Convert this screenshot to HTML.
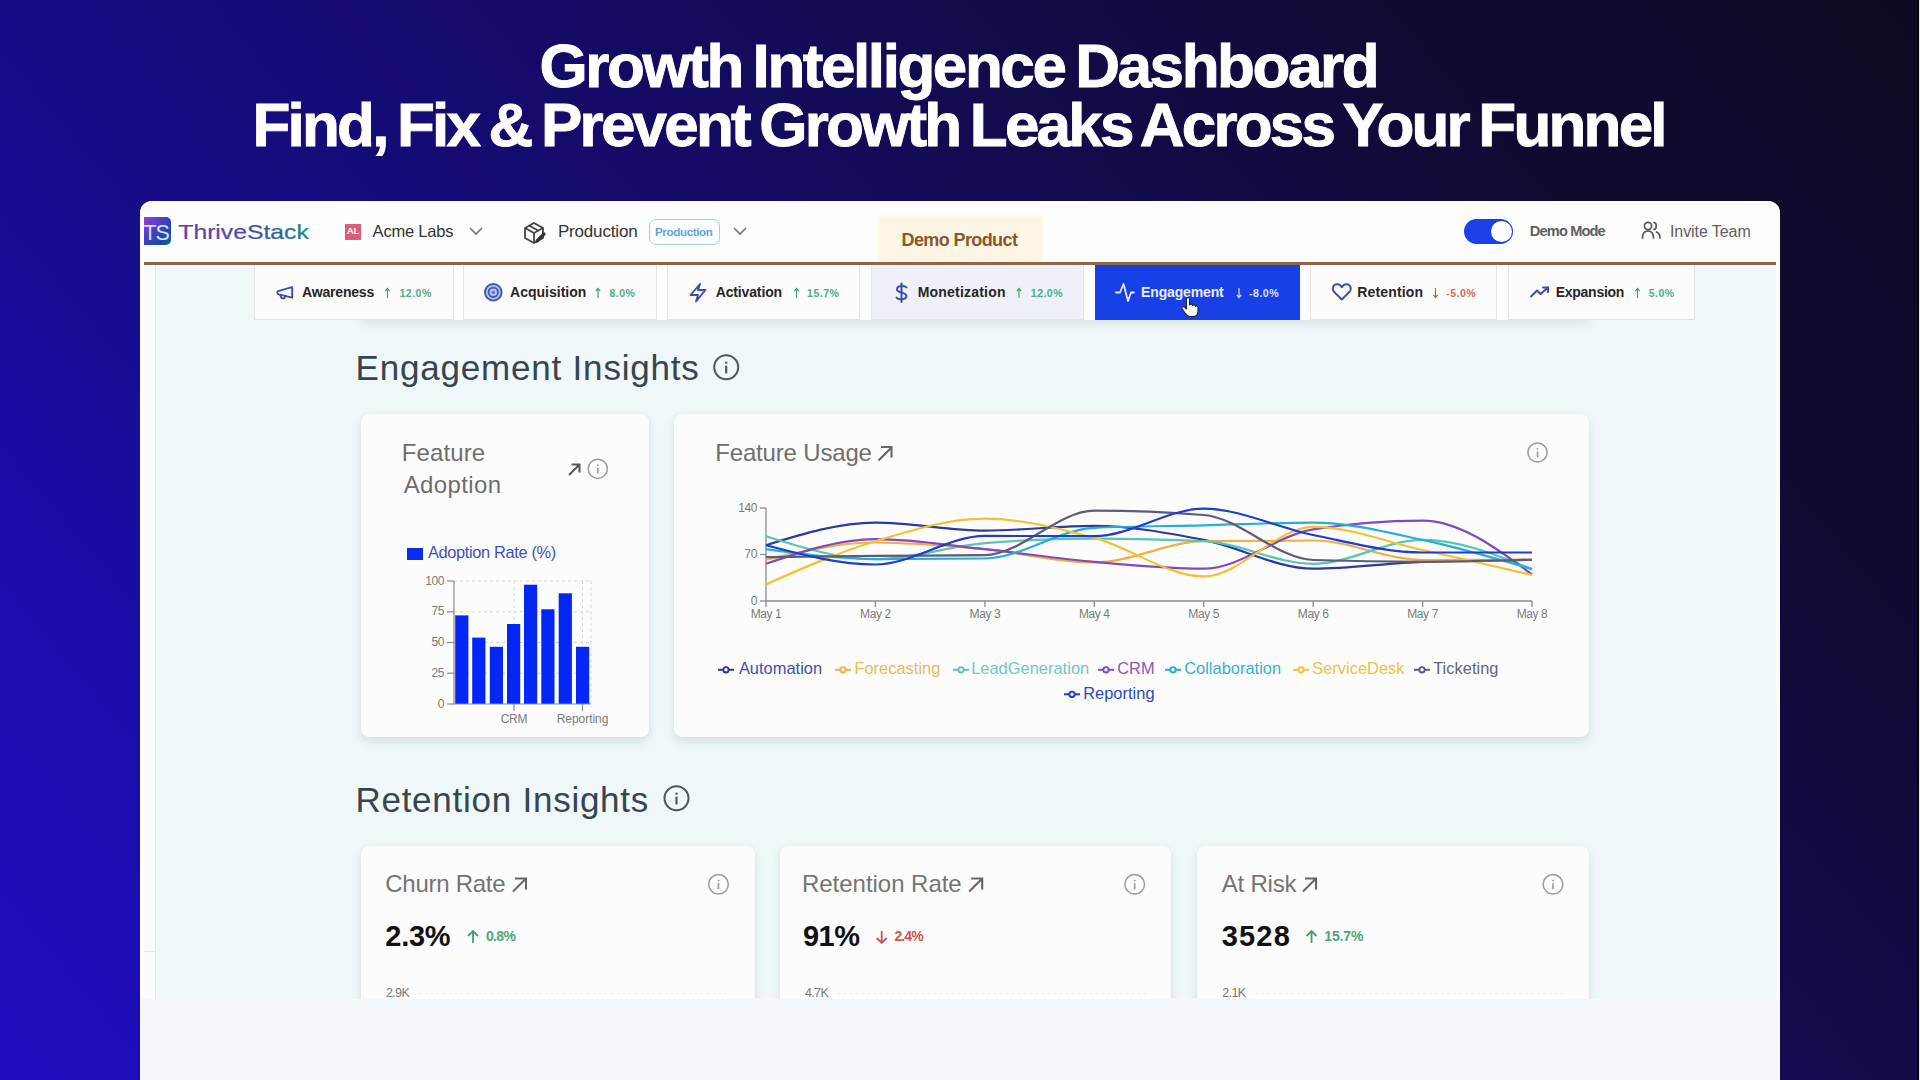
<!DOCTYPE html><html><head><meta charset="utf-8"><style>
html,body{margin:0;padding:0;width:1920px;height:1080px;overflow:hidden}
body{position:relative;font-family:"Liberation Sans",sans-serif;
background:linear-gradient(50deg,#200dbf 0%,#1b0ca8 17%,#170c86 32%,#140b68 50%,#120b4a 66%,#100a30 83%,#0f0a24 100%);}
.a{position:absolute}
.t{position:absolute;white-space:nowrap;font-family:"Liberation Sans",sans-serif}
svg{position:absolute;overflow:visible}
</style></head><body>
<div class="t" style="left:539.5px;top:34.8px;font-size:62px;line-height:62px;color:#fff;font-weight:bold;letter-spacing:-2.44px;-webkit-text-stroke:0.9px #fff;word-spacing:-4px">Growth Intelligence Dashboard</div>
<div class="t" style="left:252.5px;top:94.0px;font-size:62px;line-height:62px;color:#fff;font-weight:bold;letter-spacing:-2.8px;-webkit-text-stroke:0.9px #fff;word-spacing:-4px">Find, Fix &amp; Prevent Growth Leaks Across Your Funnel</div>
<div class="a" style="left:1917px;top:0px;width:1px;height:1080px;background:#0a0720"></div>
<div class="a" style="left:1918px;top:0px;width:1px;height:1080px;background:#000004"></div>
<div class="a" style="left:1919px;top:0px;width:1px;height:1080px;background:#e6e6ec"></div>
<div class="a" style="left:140px;top:201px;width:1640px;height:879px;background:#f4f8fa;border-radius:12px 12px 0 0;overflow:hidden"></div>
<div class="a" style="left:140px;top:201px;width:1640px;height:61px;background:#fdfdfd;border-radius:12px 12px 0 0"></div>
<div class="a" style="left:140px;top:262px;width:4px;height:737px;background:#fdfdfd"></div>
<div class="a" style="left:1776px;top:262px;width:4px;height:737px;background:#fdfdfd"></div>
<div class="a" style="left:144px;top:264px;width:11px;height:735px;background:#fbfbfb;border-right:1.5px solid #e8ebec"></div>
<div class="a" style="left:157px;top:264px;width:1619px;height:735px;background:#eff7f9"></div>
<div class="a" style="left:144px;top:262px;width:1632px;height:2.5px;background:#8d6848"></div>
<div class="a" style="left:144px;top:951px;width:11px;height:1px;background:#e6e6e6"></div>
<div class="a" style="left:144px;top:217px;width:27px;height:28px;border-radius:0 5px 5px 0;background:linear-gradient(135deg,#9a3fd0 0%,#3a3fc0 50%,#1a4aa0 80%,#0e7a78 100%);overflow:hidden"><div class="t" style="left:-0.5px;top:4.5px;font-size:21.5px;line-height:22px;color:#d4e4ff;letter-spacing:-1.2px">TS</div></div>
<div class="a" style="left:345px;top:224px;width:16px;height:16px;background:#dc5c7c"></div>
<div class="t" style="left:346.8px;top:226.3px;font-size:9.8px;line-height:9.8px;color:#fff;font-weight:bold;letter-spacing:-0.4px;">AL</div>
<div class="t" style="left:372.6px;top:223.0px;font-size:16.5px;line-height:16.5px;color:#333;font-weight:normal;letter-spacing:-0.2px;">Acme Labs</div>
<div class="t" style="left:557.9px;top:222.6px;font-size:17px;line-height:17px;color:#333;font-weight:normal;letter-spacing:-0.17px;">Production</div>
<div class="a" style="left:649px;top:219px;width:68.5px;height:23.5px;border:1.6px solid #a9cbe0;border-radius:7px;background:#fbfdff"></div>
<div class="t" style="left:654.9px;top:226.2px;font-size:11.6px;line-height:11.6px;color:#64a3dc;font-weight:bold;letter-spacing:-0.35px;">Production</div>
<div class="a" style="left:880px;top:218px;width:161px;height:44px;background:#fdf5e3;box-shadow:0 0 3px 2px #fdf6e6"></div>
<div class="a" style="left:860px;top:262px;width:200px;height:2.5px;background:#8d6848"></div>
<div class="t" style="left:901.5px;top:230.8px;font-size:18px;line-height:18px;color:#8a5828;font-weight:bold;letter-spacing:-0.6px;">Demo Product</div>
<div class="a" style="left:1464px;top:219px;width:49px;height:25px;background:#1a40e8;border-radius:13px"></div>
<div class="a" style="left:1490.5px;top:221px;width:21px;height:21px;background:#fff;border-radius:50%"></div>
<div class="t" style="left:1529.8px;top:223.6px;font-size:14.6px;line-height:14.6px;color:#606060;font-weight:bold;letter-spacing:-0.85px;">Demo Mode</div>
<div class="t" style="left:1670.0px;top:223.9px;font-size:16px;line-height:16px;color:#606060;font-weight:normal;letter-spacing:-0.08px;">Invite Team</div>
<div class="a" style="left:361px;top:300px;width:1228px;height:20px;background:#fdfdfd;box-shadow:0 5px 8px rgba(40,60,70,0.09)"></div>
<div class="a" style="left:254px;top:265px;width:1441px;height:55px;background:#fdfdfd"></div>
<div class="a" style="left:254px;top:265px;width:198px;height:54px;background:#fcfcfc;border:1px solid #e4e4e4;border-top:none"></div>
<div class="t" style="left:302.1px;top:284.6px;font-size:14px;line-height:14px;color:#262626;font-weight:bold;letter-spacing:-0.19px;">Awareness</div>
<div class="t" style="left:399.5px;top:287.5px;font-size:10.6px;line-height:10.6px;color:#4cae7e;font-weight:bold;letter-spacing:0.45px;">12.0%</div>
<div class="a" style="left:463px;top:265px;width:192px;height:54px;background:#fcfcfc;border:1px solid #e4e4e4;border-top:none"></div>
<div class="t" style="left:510.1px;top:284.6px;font-size:14px;line-height:14px;color:#262626;font-weight:bold;letter-spacing:0px;">Acquisition</div>
<div class="t" style="left:609.5px;top:287.5px;font-size:10.6px;line-height:10.6px;color:#4cae7e;font-weight:bold;letter-spacing:0.45px;">8.0%</div>
<div class="a" style="left:667px;top:265px;width:191px;height:54px;background:#fcfcfc;border:1px solid #e4e4e4;border-top:none"></div>
<div class="t" style="left:715.7px;top:284.6px;font-size:14px;line-height:14px;color:#262626;font-weight:bold;letter-spacing:-0.14px;">Activation</div>
<div class="t" style="left:807.1px;top:287.5px;font-size:10.6px;line-height:10.6px;color:#4cae7e;font-weight:bold;letter-spacing:0.45px;">15.7%</div>
<div class="a" style="left:871px;top:265px;width:211px;height:54px;background:#eef1f8;border:1px solid #e2e5ea;border-top:none"></div>
<div class="t" style="left:917.7px;top:284.6px;font-size:14px;line-height:14px;color:#262626;font-weight:bold;letter-spacing:0.2px;">Monetization</div>
<div class="t" style="left:1030.8px;top:287.5px;font-size:10.6px;line-height:10.6px;color:#4cae7e;font-weight:bold;letter-spacing:0.45px;">12.0%</div>
<div class="a" style="left:1095px;top:265px;width:205px;height:55px;background:#1740e6"></div>
<div class="t" style="left:1141.1px;top:284.6px;font-size:14px;line-height:14px;color:#e8eeff;font-weight:bold;letter-spacing:-0.15px;">Engagement</div>
<div class="t" style="left:1249.1px;top:287.5px;font-size:10.6px;line-height:10.6px;color:#dce4ff;font-weight:bold;letter-spacing:0.45px;">-8.0%</div>
<div class="a" style="left:1310px;top:265px;width:185px;height:54px;background:#fcfcfc;border:1px solid #e4e4e4;border-top:none"></div>
<div class="t" style="left:1357.3px;top:284.6px;font-size:14px;line-height:14px;color:#262626;font-weight:bold;letter-spacing:0.16px;">Retention</div>
<div class="t" style="left:1446.3px;top:287.5px;font-size:10.6px;line-height:10.6px;color:#d9655a;font-weight:bold;letter-spacing:0.45px;">-5.0%</div>
<div class="a" style="left:1508px;top:265px;width:185px;height:54px;background:#fcfcfc;border:1px solid #e4e4e4;border-top:none"></div>
<div class="t" style="left:1555.7px;top:284.6px;font-size:14px;line-height:14px;color:#262626;font-weight:bold;letter-spacing:-0.26px;">Expansion</div>
<div class="t" style="left:1648.7px;top:287.5px;font-size:10.6px;line-height:10.6px;color:#4cae7e;font-weight:bold;letter-spacing:0.45px;">5.0%</div>
<div class="t" style="left:355.6px;top:350.4px;font-size:35px;line-height:35px;color:#36454f;font-weight:normal;letter-spacing:0.8px;">Engagement Insights</div>
<div class="a" style="left:361px;top:414px;width:288px;height:323px;background:#fcfcfc;border-radius:8px;box-shadow:0 5px 10px rgba(60,80,90,0.13),0 0 2px rgba(0,0,0,0.06)"></div>
<div class="a" style="left:674px;top:414px;width:915px;height:323px;background:#fcfcfc;border-radius:8px;box-shadow:0 5px 10px rgba(60,80,90,0.13),0 0 2px rgba(0,0,0,0.06)"></div>
<div class="t" style="left:401.7px;top:440.7px;font-size:24px;line-height:24px;color:#6e6e6e;font-weight:normal;letter-spacing:0.13px;">Feature</div>
<div class="t" style="left:403.7px;top:473.2px;font-size:24px;line-height:24px;color:#6e6e6e;font-weight:normal;letter-spacing:0.39px;">Adoption</div>
<div class="a" style="left:407px;top:547.5px;width:16px;height:12px;background:#0b2bef"></div>
<div class="t" style="left:427.9px;top:544.3px;font-size:16.4px;line-height:16.4px;color:#3e51b4;font-weight:normal;letter-spacing:-0.35px;">Adoption Rate (%)</div>
<div class="t" style="left:384px;top:574.5px;width:60px;text-align:right;font-size:12px;line-height:12px;color:#7a7a7a;letter-spacing:-0.4px">100</div>
<div class="t" style="left:384px;top:605.2px;width:60px;text-align:right;font-size:12px;line-height:12px;color:#7a7a7a;letter-spacing:-0.4px">75</div>
<div class="t" style="left:384px;top:636.0px;width:60px;text-align:right;font-size:12px;line-height:12px;color:#7a7a7a;letter-spacing:-0.4px">50</div>
<div class="t" style="left:384px;top:666.8px;width:60px;text-align:right;font-size:12px;line-height:12px;color:#7a7a7a;letter-spacing:-0.4px">25</div>
<div class="t" style="left:384px;top:697.5px;width:60px;text-align:right;font-size:12px;line-height:12px;color:#7a7a7a;letter-spacing:-0.4px">0</div>
<div class="t" style="left:464px;top:712.5px;width:100px;text-align:center;font-size:12px;line-height:12px;color:#7a7a7a;letter-spacing:-0.2px">CRM</div>
<div class="t" style="left:532.5px;top:712.5px;width:100px;text-align:center;font-size:12px;line-height:12px;color:#7a7a7a;letter-spacing:-0.05px">Reporting</div>
<div class="t" style="left:715.3px;top:440.7px;font-size:24px;line-height:24px;color:#6e6e6e;font-weight:normal;letter-spacing:-0.18px;">Feature Usage</div>
<div class="t" style="left:697px;top:501.5px;width:60px;text-align:right;font-size:12px;line-height:12px;color:#7a7a7a;letter-spacing:-0.4px">140</div>
<div class="t" style="left:697px;top:548.0px;width:60px;text-align:right;font-size:12px;line-height:12px;color:#7a7a7a;letter-spacing:-0.4px">70</div>
<div class="t" style="left:697px;top:594.5px;width:60px;text-align:right;font-size:12px;line-height:12px;color:#7a7a7a;letter-spacing:-0.4px">0</div>
<div class="t" style="left:716.0px;top:608px;width:100px;text-align:center;font-size:12px;line-height:12px;color:#7a7a7a;letter-spacing:-0.4px">May 1</div>
<div class="t" style="left:825.4px;top:608px;width:100px;text-align:center;font-size:12px;line-height:12px;color:#7a7a7a;letter-spacing:-0.4px">May 2</div>
<div class="t" style="left:934.9px;top:608px;width:100px;text-align:center;font-size:12px;line-height:12px;color:#7a7a7a;letter-spacing:-0.4px">May 3</div>
<div class="t" style="left:1044.3px;top:608px;width:100px;text-align:center;font-size:12px;line-height:12px;color:#7a7a7a;letter-spacing:-0.4px">May 4</div>
<div class="t" style="left:1153.7px;top:608px;width:100px;text-align:center;font-size:12px;line-height:12px;color:#7a7a7a;letter-spacing:-0.4px">May 5</div>
<div class="t" style="left:1263.2px;top:608px;width:100px;text-align:center;font-size:12px;line-height:12px;color:#7a7a7a;letter-spacing:-0.4px">May 6</div>
<div class="t" style="left:1372.6px;top:608px;width:100px;text-align:center;font-size:12px;line-height:12px;color:#7a7a7a;letter-spacing:-0.4px">May 7</div>
<div class="t" style="left:1482.0px;top:608px;width:100px;text-align:center;font-size:12px;line-height:12px;color:#7a7a7a;letter-spacing:-0.4px">May 8</div>
<div class="t" style="left:738.9px;top:660.2px;font-size:16.4px;line-height:16.4px;color:#3d4fb0;font-weight:normal;letter-spacing:0.03px;">Automation</div>
<div class="t" style="left:854.4px;top:660.2px;font-size:16.4px;line-height:16.4px;color:#e9b95a;font-weight:normal;letter-spacing:0.03px;">Forecasting</div>
<div class="t" style="left:971.2px;top:660.2px;font-size:16.4px;line-height:16.4px;color:#6ccbbb;font-weight:normal;letter-spacing:0.03px;">LeadGeneration</div>
<div class="t" style="left:1117.2px;top:660.2px;font-size:16.4px;line-height:16.4px;color:#8a58b8;font-weight:normal;letter-spacing:0.03px;">CRM</div>
<div class="t" style="left:1184.2px;top:660.2px;font-size:16.4px;line-height:16.4px;color:#36afd0;font-weight:normal;letter-spacing:0.03px;">Collaboration</div>
<div class="t" style="left:1312.2px;top:660.2px;font-size:16.4px;line-height:16.4px;color:#eec140;font-weight:normal;letter-spacing:0.03px;">ServiceDesk</div>
<div class="t" style="left:1433.2px;top:660.2px;font-size:16.4px;line-height:16.4px;color:#646280;font-weight:normal;letter-spacing:0.03px;">Ticketing</div>
<div class="t" style="left:1083.2px;top:684.7px;font-size:16.4px;line-height:16.4px;color:#2f4abf;font-weight:normal;letter-spacing:0.03px;">Reporting</div>
<div class="t" style="left:355.4px;top:782.0px;font-size:35px;line-height:35px;color:#36454f;font-weight:normal;letter-spacing:0.75px;">Retention Insights</div>
<div class="a" style="left:361px;top:845.5px;width:393.5px;height:160px;background:#fcfcfc;border-radius:8px;box-shadow:0 5px 10px rgba(60,80,90,0.13),0 0 2px rgba(0,0,0,0.06)"></div>
<div class="t" style="left:385.3px;top:872.4px;font-size:24px;line-height:24px;color:#747474;font-weight:normal;letter-spacing:-0.27px;">Churn Rate</div>
<div class="t" style="left:385.3px;top:921.6px;font-size:29px;line-height:29px;color:#111;font-weight:bold;letter-spacing:-0.3px;">2.3%</div>
<div class="t" style="left:485.9px;top:928.9px;font-size:14px;line-height:14px;color:#48a877;font-weight:bold;letter-spacing:-0.6px;">0.8%</div>
<div class="t" style="left:385.9px;top:986.8px;font-size:12.5px;line-height:12.5px;color:#777;font-weight:normal;letter-spacing:-0.6px;">2.9K</div>
<div class="a" style="left:780px;top:845.5px;width:390.70000000000005px;height:160px;background:#fcfcfc;border-radius:8px;box-shadow:0 5px 10px rgba(60,80,90,0.13),0 0 2px rgba(0,0,0,0.06)"></div>
<div class="t" style="left:802.0px;top:872.4px;font-size:24px;line-height:24px;color:#747474;font-weight:normal;letter-spacing:-0.03px;">Retention Rate</div>
<div class="t" style="left:803.0px;top:921.6px;font-size:29px;line-height:29px;color:#111;font-weight:bold;letter-spacing:-0.55px;">91%</div>
<div class="t" style="left:894.4px;top:928.9px;font-size:14px;line-height:14px;color:#cf5548;font-weight:bold;letter-spacing:-0.9px;">2.4%</div>
<div class="t" style="left:804.9px;top:986.8px;font-size:12.5px;line-height:12.5px;color:#777;font-weight:normal;letter-spacing:-0.6px;">4.7K</div>
<div class="a" style="left:1197.4px;top:845.5px;width:391.5999999999999px;height:160px;background:#fcfcfc;border-radius:8px;box-shadow:0 5px 10px rgba(60,80,90,0.13),0 0 2px rgba(0,0,0,0.06)"></div>
<div class="t" style="left:1221.7px;top:872.4px;font-size:24px;line-height:24px;color:#747474;font-weight:normal;letter-spacing:-0.2px;">At Risk</div>
<div class="t" style="left:1221.7px;top:921.6px;font-size:29px;line-height:29px;color:#111;font-weight:bold;letter-spacing:1.2px;">3528</div>
<div class="t" style="left:1324.3px;top:928.9px;font-size:14px;line-height:14px;color:#48a877;font-weight:bold;letter-spacing:-0.15px;">15.7%</div>
<div class="t" style="left:1222.3px;top:986.8px;font-size:12.5px;line-height:12.5px;color:#777;font-weight:normal;letter-spacing:-0.6px;">2.1K</div>
<div class="a" style="left:140px;top:999px;width:1640px;height:81px;background:#f4f8fa"></div>
<svg style="left:0;top:0" width="1920" height="1080"><defs><linearGradient id="tsg" x1="178" y1="0" x2="310" y2="0" gradientUnits="userSpaceOnUse"><stop offset="0" stop-color="#6d3e9c"/><stop offset="0.45" stop-color="#4a48a6"/><stop offset="0.72" stop-color="#2f5e9e"/><stop offset="1" stop-color="#1d8a86"/></linearGradient></defs><text x="178.3" y="238.9" font-family="Liberation Sans" font-size="20.3" textLength="130.5" lengthAdjust="spacingAndGlyphs" fill="url(#tsg)" stroke="url(#tsg)" stroke-width="0.2">ThriveStack</text>
<polyline points="470,228 476,234 482,228" fill="none" stroke="#777" stroke-width="1.6"/>
<polyline points="734,228 740,234 746,228" fill="none" stroke="#777" stroke-width="1.6"/>
<g fill="none" stroke="#444" stroke-width="1.8" stroke-linejoin="round"><path d="M525,228 L534,223 L543,228 L543,238 L534,243 L525,238 Z"/><path d="M525,228 L534,233 L543,228 M534,233 L534,243 M529,225.5 L538,230.5"/></g><path d="M537,241 L544,234" stroke="#333" stroke-width="3.2" stroke-linecap="round"/>
<g fill="none" stroke="#555" stroke-width="1.7" stroke-linecap="round"><circle cx="1648" cy="226" r="3.6"/><path d="M1642.5,238 C1642.5,233 1645,231 1648,231 C1651,231 1653.5,233 1653.5,238"/><path d="M1654,222.5 C1657,223 1657,229 1654,229.5"/><path d="M1656.5,232 C1659,233 1660,235 1660,238"/></g>
<path d="M387.5,298 L387.5,288.5 M385.3,291.2 L387.5,288.5 L389.7,291.2" fill="none" stroke="#3f9e6c" stroke-width="1.15"/>
<path d="M598,298 L598,288.5 M595.8,291.2 L598,288.5 L600.2,291.2" fill="none" stroke="#3f9e6c" stroke-width="1.15"/>
<path d="M796.5,298 L796.5,288.5 M794.3,291.2 L796.5,288.5 L798.7,291.2" fill="none" stroke="#3f9e6c" stroke-width="1.15"/>
<path d="M1019,298 L1019,288.5 M1016.8,291.2 L1019,288.5 L1021.2,291.2" fill="none" stroke="#3f9e6c" stroke-width="1.15"/>
<path d="M1239,288 L1239,297.5 M1236.8,294.8 L1239,297.5 L1241.2,294.8" fill="none" stroke="#dce4ff" stroke-width="1.15"/>
<path d="M1435.5,288 L1435.5,297.5 M1433.3,294.8 L1435.5,297.5 L1437.7,294.8" fill="none" stroke="#cf5548" stroke-width="1.15"/>
<path d="M1637.5,298 L1637.5,288.5 M1635.3,291.2 L1637.5,288.5 L1639.7,291.2" fill="none" stroke="#3f9e6c" stroke-width="1.15"/>
<g fill="none" stroke="#3b4db0" stroke-width="1.9" stroke-linejoin="round" stroke-linecap="round"><path d="M278,291.2 L292.2,287.2 L292.2,297.6 L278.6,294.3 C277.2,293.8 277.0,291.6 278,291.2 Z"/><path d="M280.2,294.8 L281.6,298.2 L284.2,298.4 L285.6,296.0"/></g>
<circle cx="493.3" cy="292.3" r="8.3" fill="#b4c0f6" stroke="#4656a8" stroke-width="1.9"/><circle cx="493.3" cy="292.3" r="4.7" fill="#b4c0f6" stroke="#4858aa" stroke-width="1.8"/><circle cx="493.3" cy="292.3" r="1.6" fill="#5a6ab8"/>
<path d="M700,284 L690.5,295 L698,295 L696,301.5 L705.5,290 L698,290 Z" fill="none" stroke="#3b4db0" stroke-width="1.9" stroke-linejoin="round"/>
<g fill="none" stroke="#3b4db0" stroke-width="2" stroke-linecap="round"><path d="M901.5,283.5 L901.5,302"/><path d="M906.5,287.5 C905,285.5 897,285 897,289.5 C897,293 906.5,292 906.5,296 C906.5,300 898,300 896.5,297.5"/></g>
<path d="M1116,292.5 L1120,292.5 L1123.5,284 L1128,301 L1131,292.5 L1134,292.5" fill="none" stroke="#e2eaff" stroke-width="1.8" stroke-linejoin="round" stroke-linecap="round"/>
<path d="M1341.8,299.5 L1334.2,292 C1331.5,289 1333,284.5 1337,284.3 C1339.2,284.2 1340.8,285.6 1341.8,287.2 C1342.8,285.6 1344.4,284.2 1346.6,284.3 C1350.6,284.5 1352.1,289 1349.4,292 Z" fill="none" stroke="#3b4db0" stroke-width="1.9" stroke-linejoin="round"/>
<g fill="none" stroke="#3b4db0" stroke-width="2" stroke-linejoin="round" stroke-linecap="round"><path d="M1531,296.5 L1537,290.5 L1540.5,294 L1548,287.5"/><path d="M1543,287.5 L1548,287.5 L1548,292"/></g>
<g fill="none" stroke="#4a5860" stroke-width="2"><circle cx="726.2" cy="367.2" r="12"/></g><path d="M726.2,366.59999999999997 L726.2,372.59999999999997" stroke="#4a5860" stroke-width="2.2" stroke-linecap="round"/><circle cx="726.2" cy="362.64" r="1.2" fill="#4a5860"/>
<path d="M569,475 L579.5,464.5 M571.5,464.5 L579.5,464.5 L579.5,472.5" fill="none" stroke="#555" stroke-width="2"/>
<g fill="none" stroke="#9a9a9a" stroke-width="1.5"><circle cx="597.8" cy="468.8" r="9.6"/></g><path d="M597.8,468.32 L597.8,473.12" stroke="#9a9a9a" stroke-width="1.6500000000000001" stroke-linecap="round"/><circle cx="597.8" cy="465.152" r="0.8999999999999999" fill="#9a9a9a"/>
<path d="M454,581.0 L591,581.0" stroke="#d6d6d6" stroke-width="1" stroke-dasharray="3 3"/><path d="M454,611.8 L591,611.8" stroke="#d6d6d6" stroke-width="1" stroke-dasharray="3 3"/><path d="M454,642.5 L591,642.5" stroke="#d6d6d6" stroke-width="1" stroke-dasharray="3 3"/><path d="M454,673.2 L591,673.2" stroke="#d6d6d6" stroke-width="1" stroke-dasharray="3 3"/><path d="M514,581 L514,704" stroke="#d6d6d6" stroke-width="1" stroke-dasharray="3 3"/><path d="M582.5,581 L582.5,704" stroke="#d6d6d6" stroke-width="1" stroke-dasharray="3 3"/><path d="M591,581 L591,704" stroke="#d6d6d6" stroke-width="1" stroke-dasharray="3 3"/><rect x="455.2" y="615.4" width="13.2" height="88.6" fill="#0527f5"/><rect x="472.2" y="637.6" width="13.2" height="66.4" fill="#0527f5"/><rect x="489.8" y="646.8" width="13.2" height="57.2" fill="#0527f5"/><rect x="507" y="624.0" width="13.2" height="80.0" fill="#0527f5"/><rect x="524" y="584.7" width="13.2" height="119.3" fill="#0527f5"/><rect x="541.3" y="609.3" width="13.2" height="94.7" fill="#0527f5"/><rect x="558.7" y="593.3" width="13.2" height="110.7" fill="#0527f5"/><rect x="576" y="646.8" width="13.2" height="57.2" fill="#0527f5"/><path d="M454,581 L454,704 L591,704" fill="none" stroke="#8a8a8a" stroke-width="1.2"/><path d="M447,581.0 L454,581.0" stroke="#8a8a8a" stroke-width="1.2"/><path d="M447,611.8 L454,611.8" stroke="#8a8a8a" stroke-width="1.2"/><path d="M447,642.5 L454,642.5" stroke="#8a8a8a" stroke-width="1.2"/><path d="M447,673.2 L454,673.2" stroke="#8a8a8a" stroke-width="1.2"/><path d="M447,704.0 L454,704.0" stroke="#8a8a8a" stroke-width="1.2"/><path d="M514,704 L514,711" stroke="#8a8a8a" stroke-width="1.2"/><path d="M582.5,704 L582.5,711" stroke="#8a8a8a" stroke-width="1.2"/>
<path d="M878.5,460.5 L891,448 M881,447 L891.5,447 L891.5,457.5" fill="none" stroke="#666" stroke-width="2.1"/>
<g fill="none" stroke="#9a9a9a" stroke-width="1.5"><circle cx="1537.5" cy="452.5" r="9.6"/></g><path d="M1537.5,452.02 L1537.5,456.82" stroke="#9a9a9a" stroke-width="1.6500000000000001" stroke-linecap="round"/><circle cx="1537.5" cy="448.852" r="0.8999999999999999" fill="#9a9a9a"/>
<path d="M766,508 L766,601 L1532.0,601" fill="none" stroke="#8a8a8a" stroke-width="1.3"/><path d="M760,508.0 L766,508.0" stroke="#8a8a8a" stroke-width="1.3"/><path d="M760,554.5 L766,554.5" stroke="#8a8a8a" stroke-width="1.3"/><path d="M760,601.0 L766,601.0" stroke="#8a8a8a" stroke-width="1.3"/><path d="M766.0,601 L766.0,607" stroke="#8a8a8a" stroke-width="1.3"/><path d="M875.4,601 L875.4,607" stroke="#8a8a8a" stroke-width="1.3"/><path d="M984.9,601 L984.9,607" stroke="#8a8a8a" stroke-width="1.3"/><path d="M1094.3,601 L1094.3,607" stroke="#8a8a8a" stroke-width="1.3"/><path d="M1203.7,601 L1203.7,607" stroke="#8a8a8a" stroke-width="1.3"/><path d="M1313.2,601 L1313.2,607" stroke="#8a8a8a" stroke-width="1.3"/><path d="M1422.6,601 L1422.6,607" stroke="#8a8a8a" stroke-width="1.3"/><path d="M1532.0,601 L1532.0,607" stroke="#8a8a8a" stroke-width="1.3"/><path d="M766.0,545.2C802.5,533.9,839.0,522.6,875.4,522.6C911.9,522.6,948.4,530.6,984.9,530.6C1021.3,530.6,1057.8,525.9,1094.3,525.9C1130.8,525.9,1167.2,532.8,1203.7,539.9C1240.2,547.0,1276.7,568.7,1313.2,568.7C1349.6,568.7,1386.1,563.1,1422.6,561.8C1459.1,560.5,1495.5,560.1,1532.0,559.8" fill="none" stroke="#2b3a9c" stroke-width="2.2"/><path d="M766.0,559.8C802.5,551.2,839.0,542.5,875.4,542.5C911.9,542.5,948.4,545.9,984.9,549.2C1021.3,552.5,1057.8,562.5,1094.3,562.5C1130.8,562.5,1167.2,541.7,1203.7,541.2C1240.2,540.8,1276.7,540.5,1313.2,540.5C1349.6,540.5,1386.1,560.0,1422.6,560.0C1459.1,560.0,1495.5,559.9,1532.0,559.8" fill="none" stroke="#f0ae45" stroke-width="2.2"/><path d="M766.0,536.2C802.5,547.7,839.0,559.1,875.4,559.1C911.9,559.1,948.4,546.3,984.9,543.2C1021.3,540.1,1057.8,538.6,1094.3,538.6C1130.8,538.6,1167.2,539.4,1203.7,541.2C1240.2,543.0,1276.7,563.8,1313.2,563.8C1349.6,563.8,1386.1,539.9,1422.6,539.9C1459.1,539.9,1495.5,554.5,1532.0,569.1" fill="none" stroke="#5cc4b2" stroke-width="2.2"/><path d="M766.0,563.8C802.5,551.5,839.0,539.2,875.4,539.2C911.9,539.2,948.4,545.4,984.9,549.2C1021.3,553.0,1057.8,558.6,1094.3,561.8C1130.8,565.1,1167.2,568.7,1203.7,568.7C1240.2,568.7,1276.7,535.2,1313.2,529.4C1349.6,523.5,1386.1,520.6,1422.6,520.6C1459.1,520.6,1495.5,547.5,1532.0,574.4" fill="none" stroke="#8448b8" stroke-width="2.2"/><path d="M766.0,549.2C802.5,554.2,839.0,559.1,875.4,559.1C911.9,559.1,948.4,558.9,984.9,558.5C1021.3,558.0,1057.8,529.7,1094.3,527.9C1130.8,526.2,1167.2,526.2,1203.7,525.3C1240.2,524.4,1276.7,522.6,1313.2,522.6C1349.6,522.6,1386.1,532.1,1422.6,539.9C1459.1,547.6,1495.5,558.4,1532.0,569.1" fill="none" stroke="#27afd2" stroke-width="2.2"/><path d="M766.0,584.4C802.5,568.3,839.0,552.2,875.4,541.2C911.9,530.3,948.4,518.6,984.9,518.6C1021.3,518.6,1057.8,528.3,1094.3,537.9C1130.8,547.5,1167.2,576.4,1203.7,576.4C1240.2,576.4,1276.7,526.9,1313.2,526.9C1349.6,526.9,1386.1,541.9,1422.6,550.0C1459.1,558.0,1495.5,566.6,1532.0,575.1" fill="none" stroke="#f2c232" stroke-width="2.2"/><path d="M766.0,557.2C802.5,556.7,839.0,556.2,875.4,555.8C911.9,555.5,948.4,555.6,984.9,555.2C1021.3,554.7,1057.8,510.7,1094.3,510.7C1130.8,510.7,1167.2,512.1,1203.7,515.0C1240.2,517.9,1276.7,558.8,1313.2,560.0C1349.6,561.2,1386.1,561.8,1422.6,561.8C1459.1,561.8,1495.5,560.8,1532.0,559.8" fill="none" stroke="#5d5b7c" stroke-width="2.2"/><path d="M766.0,545.2C802.5,554.8,839.0,564.5,875.4,564.5C911.9,564.5,948.4,535.9,984.9,535.9C1021.3,535.9,1057.8,536.2,1094.3,536.2C1130.8,536.2,1167.2,508.7,1203.7,508.7C1240.2,508.7,1276.7,527.7,1313.2,535.0C1349.6,542.3,1386.1,552.5,1422.6,552.5C1459.1,552.5,1495.5,552.5,1532.0,552.5" fill="none" stroke="#1f3ccc" stroke-width="2.2"/>
<path d="M718,669.8 L734,669.8" stroke="#2b3a9c" stroke-width="2"/><circle cx="726" cy="669.8" r="2.7" fill="#fcfcfc" stroke="#2b3a9c" stroke-width="1.9"/>
<path d="M835,669.8 L851,669.8" stroke="#f0ae45" stroke-width="2"/><circle cx="843" cy="669.8" r="2.7" fill="#fcfcfc" stroke="#f0ae45" stroke-width="1.9"/>
<path d="M953,669.8 L969,669.8" stroke="#5cc4b2" stroke-width="2"/><circle cx="961" cy="669.8" r="2.7" fill="#fcfcfc" stroke="#5cc4b2" stroke-width="1.9"/>
<path d="M1098,669.8 L1114,669.8" stroke="#8448b8" stroke-width="2"/><circle cx="1106" cy="669.8" r="2.7" fill="#fcfcfc" stroke="#8448b8" stroke-width="1.9"/>
<path d="M1165,669.8 L1181,669.8" stroke="#27afd2" stroke-width="2"/><circle cx="1173" cy="669.8" r="2.7" fill="#fcfcfc" stroke="#27afd2" stroke-width="1.9"/>
<path d="M1293,669.8 L1309,669.8" stroke="#f2c232" stroke-width="2"/><circle cx="1301" cy="669.8" r="2.7" fill="#fcfcfc" stroke="#f2c232" stroke-width="1.9"/>
<path d="M1414,669.8 L1430,669.8" stroke="#5d5b7c" stroke-width="2"/><circle cx="1422" cy="669.8" r="2.7" fill="#fcfcfc" stroke="#5d5b7c" stroke-width="1.9"/>
<path d="M1064,694.3 L1080,694.3" stroke="#1f3ccc" stroke-width="2"/><circle cx="1072" cy="694.3" r="2.7" fill="#fcfcfc" stroke="#1f3ccc" stroke-width="1.9"/>
<g fill="none" stroke="#4a5860" stroke-width="2"><circle cx="676.5" cy="798.2" r="12"/></g><path d="M676.5,797.6 L676.5,803.6" stroke="#4a5860" stroke-width="2.2" stroke-linecap="round"/><circle cx="676.5" cy="793.6400000000001" r="1.2" fill="#4a5860"/>
<path d="M513,891.5 L525.5,879 M515,878.5 L526,878.5 L526,889.5" fill="none" stroke="#666" stroke-width="2.1"/>
<g fill="none" stroke="#9a9a9a" stroke-width="1.5"><circle cx="718.5" cy="884.3" r="9.8"/></g><path d="M718.5,883.81 L718.5,888.7099999999999" stroke="#9a9a9a" stroke-width="1.6500000000000001" stroke-linecap="round"/><circle cx="718.5" cy="880.5759999999999" r="0.8999999999999999" fill="#9a9a9a"/>
<path d="M473,943 L473,931 M468,936 L473,931 L478,936" fill="none" stroke="#3f9e6c" stroke-width="1.8"/>
<path d="M418.5,993.5 L730.5,993.5" stroke="#eceeee" stroke-width="1" stroke-dasharray="3 3"/>
<path d="M969.2,891.5 L981.7,879 M971.2,878.5 L982.2,878.5 L982.2,889.5" fill="none" stroke="#666" stroke-width="2.1"/>
<g fill="none" stroke="#9a9a9a" stroke-width="1.5"><circle cx="1134.7" cy="884.3" r="9.8"/></g><path d="M1134.7,883.81 L1134.7,888.7099999999999" stroke="#9a9a9a" stroke-width="1.6500000000000001" stroke-linecap="round"/><circle cx="1134.7" cy="880.5759999999999" r="0.8999999999999999" fill="#9a9a9a"/>
<path d="M881.7,931 L881.7,943 M876.7,938 L881.7,943 L886.7,938" fill="none" stroke="#cf5548" stroke-width="1.8"/>
<path d="M837.5,993.5 L1146.7,993.5" stroke="#eceeee" stroke-width="1" stroke-dasharray="3 3"/>
<path d="M1303,891.5 L1315.5,879 M1305,878.5 L1316,878.5 L1316,889.5" fill="none" stroke="#666" stroke-width="2.1"/>
<g fill="none" stroke="#9a9a9a" stroke-width="1.5"><circle cx="1553" cy="884.3" r="9.8"/></g><path d="M1553,883.81 L1553,888.7099999999999" stroke="#9a9a9a" stroke-width="1.6500000000000001" stroke-linecap="round"/><circle cx="1553" cy="880.5759999999999" r="0.8999999999999999" fill="#9a9a9a"/>
<path d="M1311.5,943 L1311.5,931 M1306.5,936 L1311.5,931 L1316.5,936" fill="none" stroke="#3f9e6c" stroke-width="1.8"/>
<path d="M1254.9,993.5 L1565,993.5" stroke="#eceeee" stroke-width="1" stroke-dasharray="3 3"/>
<path d="M1186.5,299 C1186.5,296.8 1189.5,296.8 1189.5,299 L1189.5,305 C1190,303.8 1192.5,303.8 1192.5,305.5 C1193,304.5 1195.5,304.5 1195.5,306.5 C1196.2,305.6 1198,306 1198,307.5 L1198,311 C1198,314.5 1196,316.5 1193,316.5 L1190,316.5 C1187.8,316.5 1186.5,315 1185,313 L1182,308.5 C1181.2,307 1183,305.8 1184.3,307 L1186.5,309 Z" fill="#fff" stroke="#222" stroke-width="1.1" stroke-linejoin="round"/></svg>
</body></html>
